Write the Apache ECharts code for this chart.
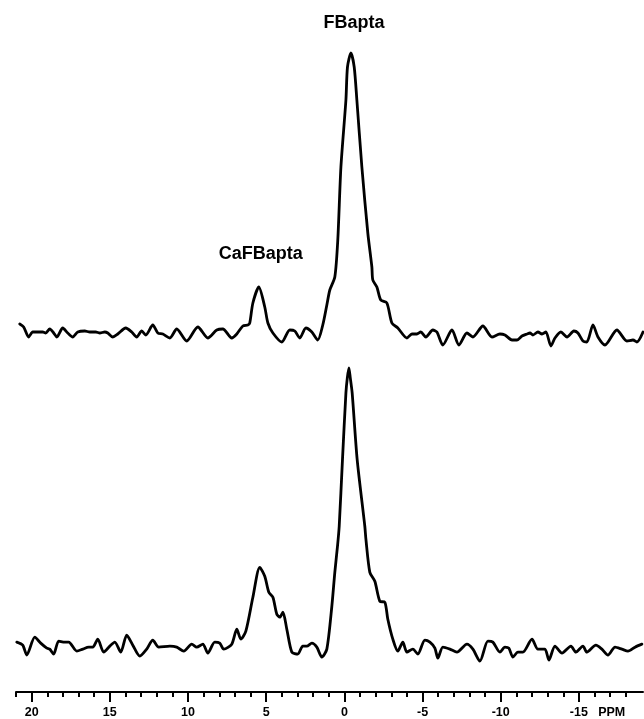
<!DOCTYPE html>
<html>
<head>
<meta charset="utf-8">
<script src="https://cdn.jsdelivr.net/npm/echarts@6/dist/echarts.min.js"></script>
<style>
  html, body { margin: 0; padding: 0; background: #fff; }
  #chart { width: 644px; height: 719px; }
</style>
</head>
<body>
<div id="chart"></div>
<script>
// 19F NMR spectra: upper trace and lower trace, chemical shift in ppm (axis runs high -> low)
const upperPpm = [
  20.76, 20.51, 20.19, 19.93, 19.61, 19.29, 19.10, 18.84, 18.59, 18.39,
  18.01, 17.69, 17.37, 17.05, 16.60, 16.28, 15.90, 15.64, 15.32, 15.13,
  14.81, 14.49, 13.98, 13.60, 13.28, 12.96, 12.70, 12.25, 11.93, 11.61,
  11.16, 10.72, 10.08, 9.37, 8.73, 8.16, 7.77, 7.20, 6.88, 6.49,
  6.17, 6.05, 5.85, 5.47, 5.09, 4.89, 4.57, 4.00, 3.49, 3.17,
  2.85, 2.46, 2.08, 1.70, 1.38, 1.12, 0.93, 0.61, 0.42, 0.22,
  -0.10, -0.20, -0.42, -0.63, -0.80, -1.12, -1.50, -1.76, -1.82, -2.08,
  -2.33, -2.72, -3.04, -3.42, -4.00, -4.32, -4.64, -4.89, -5.21, -5.66,
  -5.92, -6.30, -6.88, -7.33, -7.84, -8.22, -8.86, -9.44, -9.95, -10.27,
  -10.72, -11.04, -11.36, -11.68, -11.87, -12.06, -12.38, -12.64, -12.89, -13.21,
  -13.47, -13.85, -14.24, -14.68, -14.94, -15.26, -15.51, -15.90, -16.22, -16.67,
  -17.43, -18.07, -18.46, -18.71, -19.10
];
const upperIntensity = [
  9, 6, -4, 1, 1, 1, 0, 4, 0, -4,
  5, 0, -4, 1, 2, 1, 1, 0, 1, 0,
  -4, -1, 5, 1, -4, 2, -2, 8, 0, -1,
  -5, 4, -8, 6, -5, 3, 4, -5, -1, 7,
  8, 10, 30, 46, 26, 10, 0, -9, 3, 2,
  -5, 5, 1, -7, 8, 28, 43, 56, 93, 166,
  233, 266, 280, 266, 233, 166, 100, 66, 53, 46,
  33, 30, 10, 5, -5, -1, -1, 1, -4, 3,
  1, -12, 3, -12, 0, -4, 7, -4, -1, -2,
  -7, -7, -3, -1, 0, -2, 1, -1, 1, -13,
  -5, 1, -4, 2, 0, -8, -9, 8, -4, -12,
  3, -8, -7, -9, 1
];

const lowerPpm = [
  20.95, 20.57, 20.31, 19.80, 19.42, 19.03, 18.84, 18.59, 18.27, 17.88,
  17.63, 17.11, 16.73, 16.35, 16.09, 15.77, 15.39, 15.00, 14.68, 14.30,
  13.92, 13.53, 13.08, 12.64, 12.25, 11.87, 11.16, 10.72, 10.27, 9.76,
  9.44, 9.05, 8.73, 8.29, 7.97, 7.71, 7.20, 6.88, 6.62, 6.30,
  5.85, 5.41, 5.09, 4.83, 4.57, 4.32, 4.13, 3.93, 3.68, 3.36,
  2.98, 2.66, 2.40, 2.08, 1.76, 1.44, 1.12, 0.80, 0.61, 0.44,
  0.33, 0.12, -0.10, -0.19, -0.29, -0.38, -0.50, -0.82, -1.31, -1.38,
  -1.63, -1.95, -2.27, -2.59, -2.78, -3.10, -3.42, -3.74, -4.00, -4.38,
  -4.70, -5.15, -5.47, -5.79, -5.98, -6.30, -6.75, -7.20, -7.84, -8.22,
  -8.67, -9.18, -9.50, -9.95, -10.27, -10.52, -10.78, -11.10, -11.42, -12.00,
  -12.38, -12.83, -13.08, -13.47, -13.92, -14.49, -14.81, -15.26, -15.51, -16.09,
  -16.47, -16.86, -17.31, -17.75, -18.14, -18.59, -19.03
];
const lowerIntensity = [
  5, 2, -8, 10, 4, -1, -2, -7, 6, 5,
  5, -4, -2, 0, 0, 8, -5, 1, 5, -5,
  12, 2, -9, -2, 7, 0, 1, 0, -4, 3,
  0, 3, -6, 5, 4, -2, 3, 18, 8, 16,
  50, 80, 71, 55, 50, 33, 30, 35, 18, -5,
  -7, 1, 1, 4, 0, -10, -2, 41, 75, 101,
  121, 188, 255, 270, 280, 270, 255, 188, 121, 108,
  75, 66, 46, 45, 28, 8, -4, 5, -5, -2,
  -7, 7, 5, -1, -11, 0, -2, -5, 3, -2,
  -14, 6, 5, -5, 0, -1, -10, -5, -5, 8,
  -2, -2, -13, 1, -6, 1, -5, 1, -5, 2,
  -2, -8, 0, -2, -4, 0, 3
];

// Scale ticks and labels
const minorTickPpm = [21, 20, 19, 18, 17, 16, 15, 14, 13, 12, 11, 10, 9, 8, 7, 6, 5, 4, 3, 2, 1, 0,
  -1, -2, -3, -4, -5, -6, -7, -8, -9, -10, -11, -12, -13, -14, -15, -16, -17, -18];
const majorTickPpm = [20, 15, 10, 5, 0, -5, -10, -15];
const unitLabel = 'PPM';
const unitLabelPpm = [-17.1];

// Peak annotations
const peakNames = ['FBapta', 'CaFBapta'];

const PPM_MIN = -19.1, PPM_MAX = 21;
const FONT = '"Liberation Sans", Arial, Helvetica, sans-serif';

function pairs(xs, ys) { return xs.map((x, i) => [x, ys[i]]); }

// locate annotated peaks in the upper trace
let iMain = 0;
upperIntensity.forEach((v, i) => { if (v > upperIntensity[iMain]) iMain = i; });
let iCa = -1;
upperPpm.forEach((p, i) => {
  if (p > 3 && p < 8 && (iCa < 0 || upperIntensity[i] > upperIntensity[iCa])) iCa = i;
});

const chart = echarts.init(document.getElementById('chart'), null, { renderer: 'canvas' });

const traceStyle = { color: '#000', width: 2.8, join: 'round', cap: 'round' };
const hiddenY = { show: false, min: -45, max: 300 };

const baseX = {
  type: 'value', min: PPM_MIN, max: PPM_MAX, inverse: true,
  splitLine: { show: false }
};

chart.setOption({
  backgroundColor: '#fff',
  animation: false,
  grid: [
    { left: 16, right: 1, top: 33, height: 345 },
    { left: 16, right: 1, top: 348, height: 345 }
  ],
  xAxis: [
    Object.assign({}, baseX, { gridIndex: 0, show: false }),
    Object.assign({}, baseX, {
      gridIndex: 1, position: 'bottom',
      axisLine: { show: true, onZero: false, lineStyle: { color: '#000', width: 2 } },
      axisTick: { show: true, inside: false, length: 5, customValues: minorTickPpm,
        lineStyle: { color: '#000', width: 2 } },
      axisLabel: { show: false }
    }),
    Object.assign({}, baseX, {
      gridIndex: 1, position: 'bottom',
      axisLine: { show: false, onZero: false },
      axisTick: { show: true, length: 10, customValues: majorTickPpm,
        lineStyle: { color: '#000', width: 2 } },
      axisLabel: { show: true, customValues: majorTickPpm, margin: 14,
        color: '#000', fontFamily: FONT, fontWeight: 'bold', fontSize: 12.5 }
    }),
    Object.assign({}, baseX, {
      gridIndex: 1, position: 'bottom',
      axisLine: { show: false, onZero: false },
      axisTick: { show: false },
      axisLabel: { show: true, customValues: unitLabelPpm, margin: 14,
        formatter: () => unitLabel,
        color: '#000', fontFamily: FONT, fontWeight: 'bold', fontSize: 12.5 }
    })
  ],
  yAxis: [
    Object.assign({ gridIndex: 0, type: 'value' }, hiddenY),
    Object.assign({ gridIndex: 1, type: 'value' }, hiddenY)
  ],
  series: [
    {
      type: 'line', xAxisIndex: 0, yAxisIndex: 0,
      data: pairs(upperPpm, upperIntensity),
      smooth: 0.25, showSymbol: false,
      lineStyle: traceStyle,
      markPoint: {
        symbol: 'circle', symbolSize: 0,
        label: { show: true, color: '#000', fontFamily: FONT, fontWeight: 'bold', fontSize: 18 },
        data: [
          { coord: [upperPpm[iMain], upperIntensity[iMain]],
            label: { formatter: peakNames[0], position: 'top', distance: 21, offset: [3, 0] } },
          { coord: [upperPpm[iCa], upperIntensity[iCa]],
            label: { formatter: peakNames[1], position: 'top', distance: 24, offset: [2, 0] } }
        ]
      }
    },
    {
      type: 'line', xAxisIndex: 1, yAxisIndex: 1,
      data: pairs(lowerPpm, lowerIntensity),
      smooth: 0.25, showSymbol: false,
      lineStyle: traceStyle
    }
  ]
});
</script>
</body>
</html>
